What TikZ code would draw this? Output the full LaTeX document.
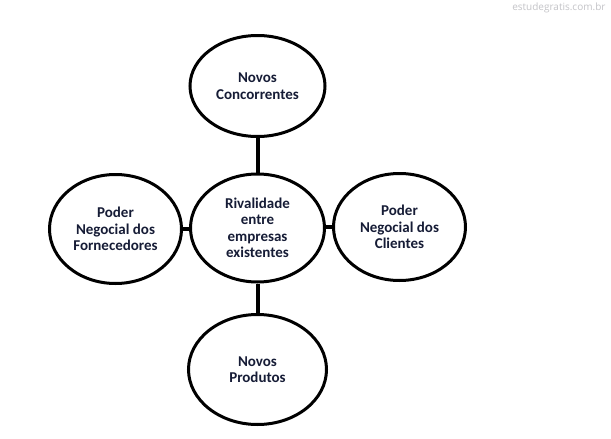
\documentclass[tikz,border=0pt]{standalone}
\usepackage{fontspec}
\usetikzlibrary{shapes.geometric}
\setmainfont{Carlito}
\newfontfamily\wmfont{Open Sans}
\definecolor{txtnavy}{HTML}{161C36}
\definecolor{wmgray}{HTML}{C4C4C8}
\begin{document}
\begin{tikzpicture}[x=1pt,y=-1pt,
  bubble/.style={draw=black,line width=3pt,ellipse,inner sep=0pt,
    font=\fontsize{15}{16.5}\selectfont\bfseries,text=txtnavy,align=center},
  link/.style={line width=4pt,draw=black}]
\useasboundingbox[fill=white] (0,0) rectangle (611,439);
\node[bubble,minimum width=135pt,minimum height=101pt] (top) at (257.5,86) {Novos\\Concorrentes};
\node[bubble,minimum width=134pt,minimum height=108pt] (mid) at (257.5,228) {Rivalidade\\entre\\empresas\\existentes};
\node[bubble,minimum width=132pt,minimum height=109pt] (left) at (115.5,229) {Poder\\Negocial dos\\Fornecedores};
\node[bubble,minimum width=132pt,minimum height=107pt] (right) at (399.5,227) {Poder\\Negocial dos\\Clientes};
\node[bubble,minimum width=138pt,minimum height=110pt] (bot) at (257.5,369.5) {Novos\\Produtos};
\draw[link] (top.south) -- (mid.north);
\draw[link] (mid.south) -- (bot.north);
\draw[link] (left.east) -- (left.east -| mid.west);
\draw[link] (mid.east |- right.west) -- (right.west);
\node[font=\wmfont\fontsize{10}{12}\selectfont,text=wmgray,anchor=east] (wm) at (609,7.5) {estudegratis.com.br};
\end{tikzpicture}
\end{document}
